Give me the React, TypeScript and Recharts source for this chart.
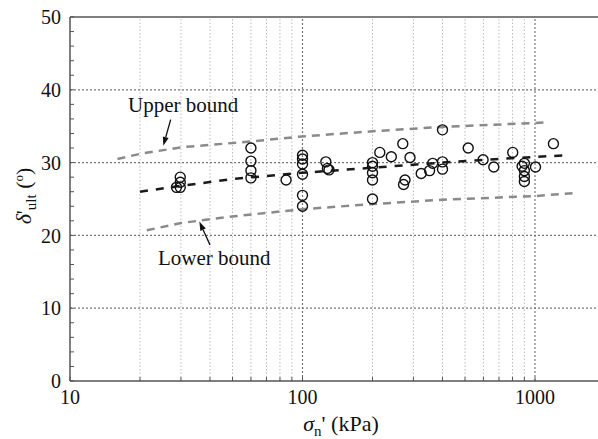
import { ReferenceLine, Scatter, ScatterChart, XAxis, YAxis } from 'recharts';

const FONT = 'Liberation Serif';

// measured interface friction angles
const testStress = [
  28.7, 29.8, 29.8, 29.8,
  60, 60, 60, 60,
  85,
  100, 100, 100, 100, 100, 100,
  126, 128, 130,
  200, 200, 200, 200, 200,
  215, 241, 270, 290, 276, 272,
  324, 352, 363,
  400, 400, 400,
  516, 598, 665, 802,
  900, 880, 900, 900, 900,
  1005, 1200,
];
const testAngle = [
  26.6, 26.6, 27.3, 28.0,
  32.0, 30.2, 28.9, 27.9,
  27.6,
  31.0, 30.5, 29.8, 28.4, 25.5, 24.0,
  30.1, 29.2, 29.0,
  30.0, 29.5, 28.6, 27.6, 25.0,
  31.4, 30.8, 32.6, 30.7, 27.6, 27.0,
  28.5, 28.9, 29.9,
  34.5, 30.1, 29.1,
  32.0, 30.4, 29.4, 31.4,
  29.9, 29.5, 28.9, 28.1, 27.4,
  29.4, 32.6,
];

// trend + bounds
const meanStress = [20, 30, 50, 100, 200, 400, 700, 1340];
const meanAngle = [26.0, 26.8, 27.75, 28.6, 29.3, 30.0, 30.5, 31.0];
const upperStress = [16, 20, 30, 60, 100, 200, 400, 1090];
const upperAngle = [30.5, 31.2, 32.1, 32.9, 33.6, 34.3, 34.9, 35.5];
const lowerStress = [21.4, 30, 50, 100, 200, 400, 1000, 1450];
const lowerAngle = [20.7, 21.7, 22.6, 23.6, 24.3, 24.9, 25.4, 25.8];

const xTicks = [10, 20, 30, 40, 50, 60, 70, 80, 90, 100, 200, 300, 400, 500, 600, 700, 800, 900, 1000, 2000];
const xMajor = [10, 100, 1000];
const yTicks = [0, 2, 4, 6, 8, 10, 12, 14, 16, 18, 20, 22, 24, 26, 28, 30, 32, 34, 36, 38, 40, 42, 44, 46, 48, 50];
const yGrid = [10, 20, 30, 40];

const zip = (xs: number[], ys: number[]) => xs.map((x, i) => ({ x, y: ys[i] }));

const tests = zip(testStress, testAngle);
const mean = zip(meanStress, meanAngle);
const upper = zip(upperStress, upperAngle);
const lower = zip(lowerStress, lowerAngle);

const Arrow = (p: any) => {
  const { x1, y1, x2, y2 } = p;
  const a = Math.atan2(y2 - y1, x2 - x1);
  const L = 9;
  const W = 3;
  const bx = x2 - L * Math.cos(a);
  const by = y2 - L * Math.sin(a);
  const px = -Math.sin(a) * W;
  const py = Math.cos(a) * W;
  return (
    <g>
      <line x1={x1} y1={y1} x2={bx} y2={by} stroke="#111" strokeWidth={1.3} />
      <polygon points={`${x2},${y2} ${bx + px},${by + py} ${bx - px},${by - py}`} fill="#111" />
    </g>
  );
};

const hollow = (p: any) => (
  <circle cx={p.cx} cy={p.cy} r={5} fill="none" stroke="#111" strokeWidth={1.4} />
);

const tickStyle = { fontSize: 20, fill: '#111', fontFamily: FONT };

export default function App() {
  return (
    <div style={{ position: 'fixed', left: 0, top: 0, width: 598, height: 439, overflow: 'hidden', background: '#fff' }}>
      <ScatterChart width={620} height={439} margin={{ top: 17, right: 15, bottom: 0, left: 0 }}>
        <XAxis
          type="number"
          dataKey="x"
          scale="log"
          domain={[10, 2000]}
          allowDataOverflow
          ticks={xTicks}
          interval={0}
          tickFormatter={(v: number) => (xMajor.includes(v) ? String(v) : '')}
          tickSize={-4}
          tickMargin={13}
          height={58}
          axisLine={{ stroke: '#555', strokeWidth: 1.5 }}
          tickLine={{ stroke: '#555' }}
          tick={tickStyle}
        />
        <YAxis
          type="number"
          dataKey="y"
          domain={[0, 50]}
          ticks={yTicks}
          interval={0}
          tickFormatter={(v: number) => (v % 10 === 0 ? String(v) : '')}
          tickSize={-4}
          tickMargin={13}
          width={70}
          axisLine={{ stroke: '#555', strokeWidth: 1.5 }}
          tickLine={{ stroke: '#555' }}
          tick={tickStyle}
        />
        {xTicks
          .filter((v) => !xMajor.includes(v))
          .map((v) => (
            <ReferenceLine key={`vx${v}`} x={v} stroke="#bbb" strokeDasharray="1.5 2" />
          ))}
        {[100, 1000].map((v) => (
          <ReferenceLine key={`mx${v}`} x={v} stroke="#777" strokeWidth={1.2} strokeDasharray="2 2" />
        ))}
        {yGrid.map((v) => (
          <ReferenceLine key={`gy${v}`} y={v} stroke="#777" strokeWidth={1.2} strokeDasharray="2 2" />
        ))}
        <ReferenceLine y={50} stroke="#555" strokeWidth={1.5} />
        <Scatter
          data={upper}
          line={{ stroke: '#8a8a8a', strokeWidth: 2.5, strokeDasharray: '8 6' }}
          shape={() => <g />}
          isAnimationActive={false}
        />
        <Scatter
          data={lower}
          line={{ stroke: '#8a8a8a', strokeWidth: 2.5, strokeDasharray: '8 6' }}
          shape={() => <g />}
          isAnimationActive={false}
        />
        <Scatter
          data={mean}
          line={{ stroke: '#1a1a1a', strokeWidth: 2.5, strokeDasharray: '8 8' }}
          shape={() => <g />}
          isAnimationActive={false}
        />
        <Scatter data={tests} shape={hollow} isAnimationActive={false} />
        <ReferenceLine segment={[{ x: 27.1, y: 35.9 }, { x: 25.2, y: 32.3 }]} shape={Arrow} ifOverflow="visible" />
        <ReferenceLine segment={[{ x: 40, y: 18.7 }, { x: 36, y: 21.9 }]} shape={Arrow} ifOverflow="visible" />
      </ScatterChart>
      <svg width={598} height={439} style={{ position: 'absolute', left: 0, top: 0, pointerEvents: 'none' }}>
        <text x={128} y={112} fontSize={21} fontFamily={FONT} fill="#111">Upper bound</text>
        <text x={158} y={265} fontSize={21} fontFamily={FONT} fill="#111">Lower bound</text>
        <text x={341} y={431} textAnchor="middle" fontSize={22} fontFamily={FONT} fill="#111">
          <tspan fontStyle="italic">σ</tspan>
          <tspan fontSize={15} dy={5}>n</tspan>
          <tspan dy={-5}>' (kPa)</tspan>
        </text>
        <text
          x={31}
          y={196}
          transform="rotate(-90 31 196)"
          textAnchor="middle"
          fontSize={22}
          fontFamily={FONT}
          fill="#111"
        >
          <tspan fontStyle="italic">δ</tspan>
          <tspan>'</tspan>
          <tspan fontSize={15} dy={5}>ult</tspan>
          <tspan dy={-5}> (</tspan>
          <tspan fontSize={13} dy={-8}>o</tspan>
          <tspan dy={8}>)</tspan>
        </text>
      </svg>
    </div>
  );
}
